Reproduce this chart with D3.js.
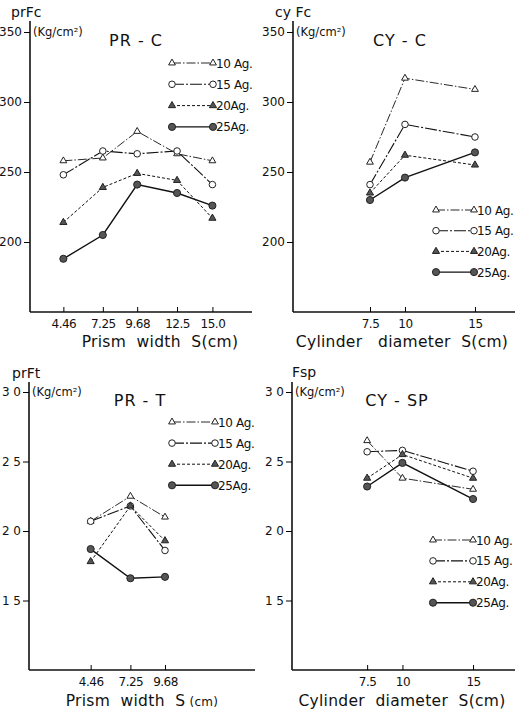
<!DOCTYPE html>
<html>
<head>
<meta charset="utf-8">
<script src="https://cdn.jsdelivr.net/npm/d3@7"></script>
<style>
  body { margin: 0; background: #fff; }
  svg { display: block; }
  text { font-family: "DejaVu Sans", sans-serif; fill: #111; }
</style>
</head>
<body>
<div id="chart"></div>
<script>
// Series names (ages) and their legend labels
const ages = ["10", "15", "20", "25"];
const legendLabels = ["10 Ag.", "15 Ag.", "20Ag.", "25Ag."];

// PR-C : prism compression
const prcWidths = [4.46, 7.25, 9.68, 12.5, 15.0];
const prc10 = [258, 260, 279, 263, 258];
const prc15 = [248, 265, 263, 265, 241];
const prc20 = [214, 239, 249, 244, 217];
const prc25 = [188, 205, 241, 235, 226];

// CY-C : cylinder compression
const cycDiameters = [7.5, 10, 15];
const cyc10 = [257, 317, 309];
const cyc15 = [241, 284, 275];
const cyc20 = [235, 262, 255];
const cyc25 = [230, 246, 264];

// PR-T : prism tension
const prtWidths = [4.46, 7.25, 9.68];
const prt10 = [20.7, 22.5, 21.0];
const prt15 = [20.7, 21.8, 18.6];
const prt20 = [17.8, 21.8, 19.3];
const prt25 = [18.7, 16.6, 16.7];

// CY-SP : cylinder splitting
const cyspDiameters = [7.5, 10, 15];
const cysp10 = [26.5, 23.8, 23.0];
const cysp15 = [25.7, 25.8, 24.3];
const cysp20 = [23.8, 25.5, 23.8];
const cysp25 = [23.2, 24.9, 22.3];

// Tick labels
const prcXTicks = ["4.46", "7.25", "9.68", "12.5", "15.0"];
const cyXTicks = ["7.5", "10", "15"];
const prtXTicks = ["4.46", "7.25", "9.68"];
const fcYTicks = [200, 250, 300, 350];
const ftYTicks = [15, 20, 25, 30];

const width = 516, height = 712;

const svg = d3.select("#chart").append("svg")
  .attr("width", width)
  .attr("height", height);

// line style per series
const styles = {
  "10": { dash: "9,2,1.5,2", width: 0.9, symbol: d3.symbolTriangle, fill: "#fff", size: 20 },
  "15": { dash: "12,2,2,2", width: 1.1, symbol: d3.symbolCircle, fill: "#fff", size: 34 },
  "20": { dash: "3,2", width: 1, symbol: d3.symbolTriangle, fill: "#555", size: 22 },
  "25": { dash: null, width: 1.4, symbol: d3.symbolCircle, fill: "#555", size: 40 }
};

const panels = [
  {
    title: "PR - C", yName: "prFc", xLabel: "Prism  width  S(cm)",
    xs: prcWidths, series: [prc10, prc15, prc20, prc25], xTicks: prcXTicks,
    yTicks: fcYTicks, yDomain: [150, 350], yRange: [312, 32], yTop: 21,
    xDomain: [2.1, 17.8], xRange: [30, 252],
    titlePos: [136, 46], yNamePos: [11, 17], unitY: 32,
    legend: { x1: 172, x2: 213, y0: 63, step: 21.3 },
    xLabelPos: [160, 347]
  },
  {
    title: "CY - C", yName: "cy Fc", xLabel: "Cylinder   diameter  S(cm)",
    xs: cycDiameters, series: [cyc10, cyc15, cyc20, cyc25], xTicks: cyXTicks,
    yTicks: fcYTicks, yDomain: [150, 350], yRange: [312, 32], yTop: 21,
    xDomain: [2, 17.86], xRange: [293, 515],
    titlePos: [400, 46], yNamePos: [275, 17], unitY: 32,
    legend: { x1: 436, x2: 474, y0: 210, step: 20.7 },
    xLabelPos: [402, 347]
  },
  {
    title: "PR - T", yName: "prFt", xLabel: "Prism  width  S",
    xs: prtWidths, series: [prt10, prt15, prt20, prt25], xTicks: prtXTicks,
    yTicks: ftYTicks, yDomain: [10, 30], yRange: [670, 392], yTop: 382,
    xDomain: [0.13, 16.0], xRange: [29, 255],
    titlePos: [140, 406], yNamePos: [12, 378], unitY: 392,
    legend: { x1: 172, x2: 215, y0: 422, step: 21.1 },
    xLabelPos: [142, 706], unitSmall: true
  },
  {
    title: "CY - SP", yName: "Fsp", xLabel: "Cylinder  diameter  S(cm)",
    xs: cyspDiameters, series: [cysp10, cysp15, cysp20, cysp25], xTicks: cyXTicks,
    yTicks: ftYTicks, yDomain: [10, 30], yRange: [670, 392], yTop: 382,
    xDomain: [2.18, 17.97], xRange: [292, 515],
    titlePos: [397, 406], yNamePos: [292, 377], unitY: 392,
    legend: { x1: 433, x2: 473, y0: 540, step: 20.9 },
    xLabelPos: [402, 706]
  }
];

function drawMarker(g, age, x, y) {
  const s = styles[age];
  g.append("path")
    .attr("d", d3.symbol().type(s.symbol).size(s.size)())
    .attr("transform", `translate(${x},${y})`)
    .attr("fill", s.fill)
    .attr("stroke", "#222")
    .attr("stroke-width", 1);
}

panels.forEach(function(p) {
  const g = svg.append("g");

  const xScale = d3.scaleLinear().domain(p.xDomain).range(p.xRange);
  const yScale = d3.scaleLinear().domain(p.yDomain).range(p.yRange);
  const x0 = p.xRange[0], yBottom = p.yRange[0];

  // axis lines
  g.append("line")
    .attr("x1", x0).attr("x2", x0)
    .attr("y1", p.yTop).attr("y2", yBottom)
    .attr("stroke", "#111").attr("stroke-width", 1.6);
  g.append("line")
    .attr("x1", x0).attr("x2", p.xRange[1])
    .attr("y1", yBottom).attr("y2", yBottom)
    .attr("stroke", "#111").attr("stroke-width", 1.6);

  // y axis ticks
  const yAxis = d3.axisLeft(yScale)
    .tickValues(p.yTicks)
    .tickSize(6)
    .tickPadding(2)
    .tickFormat(d => (p.yDomain[1] === 30 ? String(d).split("").join(" ") : d));
  const yg = g.append("g")
    .attr("transform", `translate(${x0},0)`)
    .call(yAxis);
  yg.select(".domain").remove();
  yg.selectAll("text").style("font-size", "12px");

  // x axis ticks
  const xAxis = d3.axisBottom(xScale)
    .tickValues(p.xs)
    .tickSize(-5)
    .tickPadding(7)
    .tickFormat((d, i) => p.xTicks[i]);
  const xg = g.append("g")
    .attr("transform", `translate(0,${yBottom})`)
    .call(xAxis);
  xg.select(".domain").remove();
  xg.selectAll("text").style("font-size", "12px").style("letter-spacing", "-0.5px");

  // axis names
  g.append("text")
    .attr("x", p.yNamePos[0]).attr("y", p.yNamePos[1])
    .style("font-size", "14px")
    .text(p.yName);
  g.append("text")
    .attr("x", x0 + 3).attr("y", p.unitY + 4)
    .style("font-size", "11.5px")
    .text("(Kg/cm²)");

  // panel title
  g.append("text")
    .attr("x", p.titlePos[0]).attr("y", p.titlePos[1])
    .attr("text-anchor", "middle")
    .style("font-size", "16px")
    .style("letter-spacing", "1px")
    .text(p.title);

  // x label
  const xl = g.append("text")
    .attr("x", p.xLabelPos[0]).attr("y", p.xLabelPos[1])
    .attr("text-anchor", "middle")
    .style("font-size", "15.5px")
    .style("letter-spacing", "0.3px")
    .style("white-space", "pre")
    .attr("xml:space", "preserve")
    .text(p.xLabel);
  if (p.unitSmall) {
    xl.append("tspan").style("font-size", "12px").text(" (cm)");
  }

  // series lines and markers
  const line = d3.line()
    .x((d, i) => xScale(p.xs[i]))
    .y(d => yScale(d));

  p.series.forEach(function(values, k) {
    const age = ages[k];
    const s = styles[age];
    g.append("path")
      .datum(values)
      .attr("d", line)
      .attr("fill", "none")
      .attr("stroke", "#111")
      .attr("stroke-width", s.width)
      .attr("stroke-dasharray", s.dash);
  });
  p.series.forEach(function(values, k) {
    values.forEach(function(v, i) {
      drawMarker(g, ages[k], xScale(p.xs[i]), yScale(v));
    });
  });

  // legend
  ages.forEach(function(age, k) {
    const s = styles[age];
    const ly = p.legend.y0 + k * p.legend.step;
    g.append("line")
      .attr("x1", p.legend.x1).attr("x2", p.legend.x2)
      .attr("y1", ly).attr("y2", ly)
      .attr("stroke", "#111")
      .attr("stroke-width", s.width)
      .attr("stroke-dasharray", s.dash);
    drawMarker(g, age, p.legend.x1, ly);
    drawMarker(g, age, p.legend.x2, ly);
    g.append("text")
      .attr("x", p.legend.x2 + 3).attr("y", ly + 4.5)
      .style("font-size", "12px")
      .style("letter-spacing", "-0.4px")
      .text(legendLabels[k]);
  });
});
</script>
</body>
</html>
